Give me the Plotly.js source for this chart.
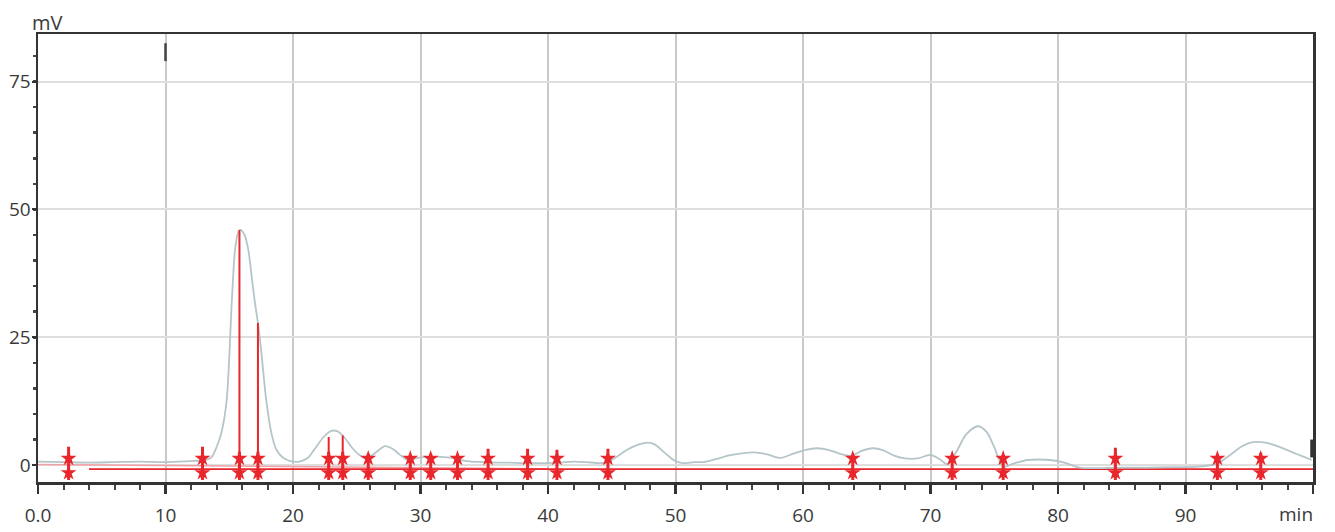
<!DOCTYPE html>
<html>
<head>
<meta charset="utf-8">
<script src="https://cdn.plot.ly/plotly-3.0.1.min.js"></script>
<style>html,body{margin:0;padding:0;background:#fff;}#chart{width:1335px;height:532px;}</style>
</head>
<body>
<div id="chart"></div>
<script>
// Chromatogram signal (min, mV)
const timeMin = [0,2,4,6,8,10,12,13,13.6,14.0,14.4,14.8,15.2,15.45,15.7,15.9,16.2,16.5,16.8,17.0,17.25,17.5,17.9,18.3,18.7,19.2,19.8,20.5,21.2,21.8,22.4,23.0,23.5,24.0,24.6,25.2,25.7,26.4,27.2,27.8,28.4,29.0,29.8,30.5,31.5,32.5,33.2,34.0,35.0,36,37,38,39,40,41,42,43,44,44.6,45.3,46.2,47.2,47.8,48.4,49.2,50.0,50.6,51.5,52.2,53.2,54.2,55.2,56.2,57.2,58.2,59.2,60.2,61.1,62.0,62.8,63.8,64.6,65.5,66.3,67.2,68.0,69.0,70.0,70.7,71.3,72.0,72.8,73.7,74.4,75.0,75.7,76.5,77.6,78.5,79.4,80.5,81.7,83,85,87,89,91,92.5,93.5,94.5,95.3,96.3,97.3,98.4,99.3,99.9];
const signalMv = [0.7,0.6,0.5,0.6,0.7,0.6,0.8,0.9,1.5,3.5,6.5,12.7,32,42,45.5,46,45,42,36,32,27.8,22.5,12.7,6.3,3,1.5,0.8,0.7,1.5,3.5,5.5,6.7,6.6,5.5,3.5,2,1.4,2.3,3.7,3.2,2,1.0,1.4,1.6,1.6,1.4,1.0,0.7,0.6,0.5,0.5,0.4,0.4,0.4,0.5,0.7,0.6,0.4,0.5,1.5,3,4.1,4.4,4.0,2.3,0.8,0.4,0.6,0.6,1.2,1.9,2.3,2.5,2.1,1.4,2.2,3.0,3.3,3.0,2.3,1.8,2.8,3.3,2.9,1.8,1.3,1.3,2.0,1.2,0.2,2.5,6.0,7.6,6.5,3.5,-0.3,0.3,1.0,1.1,1.0,0.5,-0.5,-0.6,-0.5,-0.5,-0.4,-0.3,0.3,2.0,3.8,4.5,4.4,3.6,2.5,1.6,1.0];

// Integration events (peak start/end marks)
const eventTimes = [2.4,12.9,15.8,17.25,22.8,23.9,25.9,29.2,30.8,32.9,35.3,38.4,40.7,44.7,63.9,71.7,75.7,84.5,92.5,95.9];
const eventTops  = [3.6,3.6,2.6,2.6,2.6,2.6,2.2,2.0,2.2,2.0,3.2,3.2,3.0,3.2,2.0,2.0,2.0,3.4,2.0,2.4];

// Peak apex drop lines
const peakTimes = [15.8,17.25,22.8,23.9];
const peakHeights = [46,27.8,5.5,5.8];

// Baselines
const baseRedX = [4,100];
const baseRedY = [-0.8,-0.8];
const basePinkX = [0,40];
const basePinkY = [0.1,-0.7];

const xTickVals = [0,10,20,30,40,50,60,70,80,90,100];
const xTickText = ['0.0','10','20','30','40','50','60','70','80','90',''];
const xUnit = 'min';
const yTickVals = [0,25,50,75];
const yUnit = 'mV';

const RED = '#e8262b';

const evX = [], evY = [];
eventTimes.forEach((t,i)=>{ evX.push(t,t,null); evY.push(-2.9,eventTops[i],null); });
const pkX = [], pkY = [];
peakTimes.forEach((t,i)=>{ pkX.push(t,t,null); pkY.push(-0.8,peakHeights[i],null); });

const traces = [
  {x: basePinkX, y: basePinkY, mode:'lines', line:{color:'#f2a0a8', width:1.5}, hoverinfo:'skip'},
  {x: baseRedX, y: baseRedY, mode:'lines', line:{color:RED, width:1.8}, hoverinfo:'skip'},
  {x: timeMin, y: signalMv, mode:'lines', line:{color:'#b5c5c9', width:1.8, shape:'spline', smoothing:0.8}, hoverinfo:'skip'},
  {x: pkX, y: pkY, mode:'lines', line:{color:RED, width:2}, hoverinfo:'skip'},
  {x: evX, y: evY, mode:'lines', line:{color:RED, width:3}, hoverinfo:'skip'},
  {x: eventTimes, y: eventTimes.map(()=>1.3), mode:'markers', marker:{symbol:'star', size:12, color:RED}, hoverinfo:'skip'},
  {x: eventTimes, y: eventTimes.map(()=>-1.5), mode:'markers', marker:{symbol:'star', size:12, color:RED}, hoverinfo:'skip'},
  {x: [10,10], y:[79,82.5], mode:'lines', line:{color:'#444', width:2.5}, hoverinfo:'skip'},
  {x: [99.9,99.9], y:[1.5,5], mode:'lines', line:{color:'#333', width:3}, hoverinfo:'skip'}
];

const layout = {
  width:1335, height:532,
  margin:{l:38, r:22, t:34, b:50},
  paper_bgcolor:'#fff', plot_bgcolor:'#fff',
  showlegend:false,
  font:{family:'Open Sans, sans-serif', size:19, color:'#3a3a3a'},
  xaxis:{
    range:[0,100], tickvals:xTickVals, ticktext:xTickText,
    showgrid:true, gridcolor:'#c9c9c9', gridwidth:2,
    zeroline:false, showline:true, linecolor:'#333', linewidth:2.5, mirror:true,
    ticks:'outside', ticklen:9, tickwidth:2.5, tickcolor:'#333',
    ticklabelstandoff:6,
    minor:{dtick:2, ticks:'outside', ticklen:5, tickwidth:2, tickcolor:'#444', showgrid:false},
    tickfont:{size:19, color:'#3a3a3a'}
  },
  yaxis:{
    range:[-3.3,84.3], tickvals:yTickVals,
    showgrid:true, gridcolor:'#dedede', gridwidth:2,
    zeroline:false, showline:true, linecolor:'#333', linewidth:2.5, mirror:true,
    ticks:'outside', ticklen:4, tickwidth:2, tickcolor:'#333',
    ticklabelstandoff:-3,
    minor:{dtick:5, ticks:'outside', ticklen:3, tickwidth:2.5, tickcolor:'#444', showgrid:false},
    tickfont:{size:19, color:'#3a3a3a'}
  },
  annotations:[
    {text:yUnit, xref:'paper', yref:'paper', x:0, y:1, xanchor:'center', yanchor:'bottom', xshift:9, yshift:-4, showarrow:false, font:{size:20, color:'#3a3a3a'}},
    {text:xUnit, xref:'x', yref:'paper', x:100, y:0, xanchor:'right', yanchor:'top', yshift:-17, xshift:2, showarrow:false, font:{size:19, color:'#3a3a3a'}}
  ]
};

Plotly.newPlot('chart', traces, layout, {displayModeBar:false, staticPlot:true});
</script>
</body>
</html>
